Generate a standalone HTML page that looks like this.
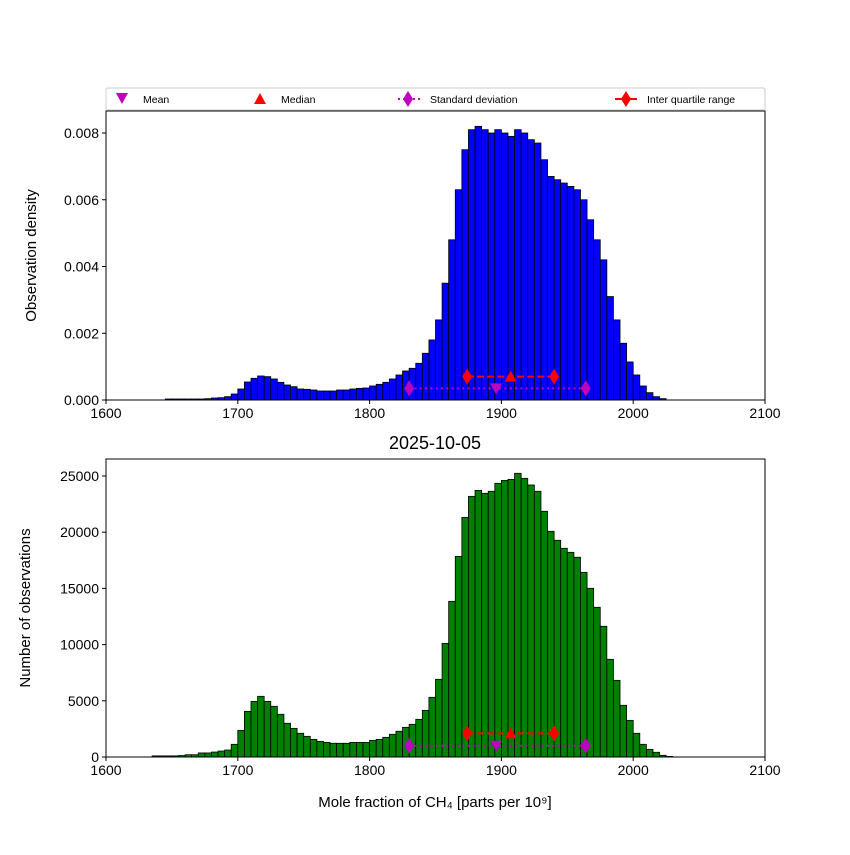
<!DOCTYPE html>
<html><head><meta charset="utf-8"><style>
body{margin:0;background:#fff}
svg{font-family:"Liberation Sans","DejaVu Sans",sans-serif}
</style></head><body>
<svg id="c" width="850" height="850" xmlns="http://www.w3.org/2000/svg"></svg>
<script>
const binStart = 1635;
const binWidth = 5;
const densityStart = 1645;
const densityValues = [0.00003,0.00003,0.00003,0.00003,0.00003,0.00003,0.00004,0.00006,0.00007,0.0001,0.00018,
0.00033,0.00054,0.00065,0.00072,0.0007,0.00063,0.00053,0.00045,0.0004,0.00033,0.00032,0.0003,0.00027,0.00027,0.00027,0.0003,0.0003,0.00033,0.00035,0.00036,
0.00042,0.00047,0.00053,0.00063,0.00075,0.00087,0.00095,0.0011,0.0014,0.0018,0.0024,0.0035,0.0048,0.0063,0.0075,0.0081,0.0082,0.0081,0.0080,0.0081,
0.0080,0.0079,0.0081,0.0080,0.0078,0.0077,0.0072,0.0067,0.0066,0.0065,0.0064,0.0063,0.0060,0.0054,0.0048,0.0042,0.0031,0.0024,0.0017,0.00114,
0.00075,0.00042,0.00022,0.0001,0.00004];
const countValues = [100,100,100,100,130,200,200,360,360,440,530,620,1130,
2370,4060,4950,5400,4950,4510,3800,3000,2550,2110,1840,1570,1390,1300,1220,1220,1220,1300,1300,1300,
1480,1570,1750,2020,2290,2640,2910,3350,4150,5310,6910,10110,13850,17850,21320,23190,23720,23460,23640,24350,
24610,24700,25240,24790,24200,23640,21860,20080,19280,18570,18210,17770,16430,15010,13320,11630,8690,6820,4600,3260,
2110,1130,680,420,150,50];
const xTicks = [1600,1700,1800,1900,2000,2100];
const densTicks = [0,0.002,0.004,0.006,0.008];
const densTickLabels = ["0.000","0.002","0.004","0.006","0.008"];
const countTicks = [0,5000,10000,15000,20000,25000];
const statsX = {mean:1896, median:1907, sdLo:1830, sdHi:1964, q1:1874, q3:1940};
const statsYTop = {mean:0.00035, iqr:0.0007};
const statsYBot = {mean:1000, iqr:2100};

const svg = document.getElementById('c');
const NS = 'http://www.w3.org/2000/svg';
function mk(tag, attrs, parent){const e=document.createElementNS(NS,tag);for(const k in attrs)e.setAttribute(k,attrs[k]);(parent||svg).appendChild(e);return e;}
const L=106,R=765;
const xs=v=>L+(v-1600)/500*(R-L);
const yT=v=>400-v/0.008*267;
const yB=v=>757-v/25000*281;

function diamond(x,y,color,parent){return mk('path',{d:`M${x},${y-8} L${x+5},${y} L${x},${y+8} L${x-5},${y} Z`,fill:color},parent);}
function triDown(x,y,c,p){return mk('path',{d:`M${x-6},${y-5} L${x+6},${y-5} L${x},${y+6} Z`,fill:c},p);}
function triUp(x,y,c,p){return mk('path',{d:`M${x-6},${y+5} L${x+6},${y+5} L${x},${y-6} Z`,fill:c},p);}

function panel(name, top, bottom, values, start, fy, color, ticks, tickLabels, ylabel, ylabX, sy){
  const g=mk('g',{});
  
  
  values.forEach((v,i)=>{
    const x0=xs(start+i*binWidth), x1=xs(start+(i+1)*binWidth);
    const r=mk('rect',{x:x0,y:fy(v),width:x1-x0,height:bottom-fy(v),fill:color,stroke:'#000','stroke-width':0.8},g);
    
    
  });
  const sg=mk('g',{},g);
  
  
  const ym=fy(sy.mean), yi=fy(sy.iqr);
  mk('line',{x1:xs(statsX.sdLo),x2:xs(statsX.sdHi),y1:ym,y2:ym,stroke:'#bf00bf','stroke-width':2,'stroke-dasharray':'2,3.3'},sg);
  diamond(xs(statsX.sdLo),ym,'#bf00bf',sg);diamond(xs(statsX.sdHi),ym,'#bf00bf',sg);
  triDown(xs(statsX.mean),ym,'#bf00bf',sg);
  mk('line',{x1:xs(statsX.q1),x2:xs(statsX.q3),y1:yi,y2:yi,stroke:'#ff0000','stroke-width':2,'stroke-dasharray':'7,3'},sg);
  diamond(xs(statsX.q1),yi,'#ff0000',sg);diamond(xs(statsX.q3),yi,'#ff0000',sg);
  triUp(xs(statsX.median),yi,'#ff0000',sg);
  const f=mk('rect',{x:L,y:top,width:R-L,height:bottom-top,fill:'none',stroke:'#000','stroke-width':1},g);
  
  
  xTicks.forEach(t=>{
    mk('line',{x1:xs(t),x2:xs(t),y1:bottom,y2:bottom+4,stroke:'#000'},g);
    const tx=mk('text',{x:xs(t),y:bottom+18,'text-anchor':'middle','font-size':14},g);
    tx.textContent=t;
    
    
  });
  ticks.forEach((t,i)=>{
    mk('line',{x1:L-4,x2:L,y1:fy(t),y2:fy(t),stroke:'#000'},g);
    const tx=mk('text',{x:L-7,y:fy(t)+5,'text-anchor':'end','font-size':14},g);
    tx.textContent=tickLabels[i];
    
    
  });
  const yl=mk('text',{x:ylabX,y:(top+bottom)/2,'text-anchor':'middle','font-size':15,transform:`rotate(-90 ${ylabX} ${(top+bottom)/2})`},g);
  yl.textContent=ylabel;
  
  
}
panel('density-histogram',111,400,densityValues,densityStart,yT,'#0000ff',densTicks,densTickLabels,'Observation density',36,statsYTop);
panel('count-histogram',459,757,countValues,binStart,yB,'#008000',countTicks,countTicks.map(String),'Number of observations',30,statsYBot);

const title=mk('text',{x:435,y:449,'text-anchor':'middle','font-size':18});
title.textContent='2025-10-05';


const xl=mk('text',{x:435,y:807,'text-anchor':'middle','font-size':15});
xl.textContent='Mole fraction of CH₄ [parts per 10⁹]';



const lg=mk('g',{});


mk('rect',{x:106,y:88,width:659,height:22,fill:'#fff',stroke:'#ccc',rx:2},lg);
triDown(122,98,'#bf00bf',lg);
triUp(260,99,'#ff0000',lg);
mk('line',{x1:398,x2:420,y1:99,y2:99,stroke:'#bf00bf','stroke-width':2,'stroke-dasharray':'2,3'},lg);
diamond(408,99,'#bf00bf',lg);
mk('line',{x1:615,x2:637,y1:99,y2:99,stroke:'#ff0000','stroke-width':2},lg);
diamond(626,99,'#ff0000',lg);
[['Mean',143],['Median',281],['Standard deviation',430],['Inter quartile range',647]].forEach(([t,x])=>{
  const e=mk('text',{x:x,y:103,'font-size':10.5},lg);
  e.textContent=t;
  
  
});
</script>
</body></html>
